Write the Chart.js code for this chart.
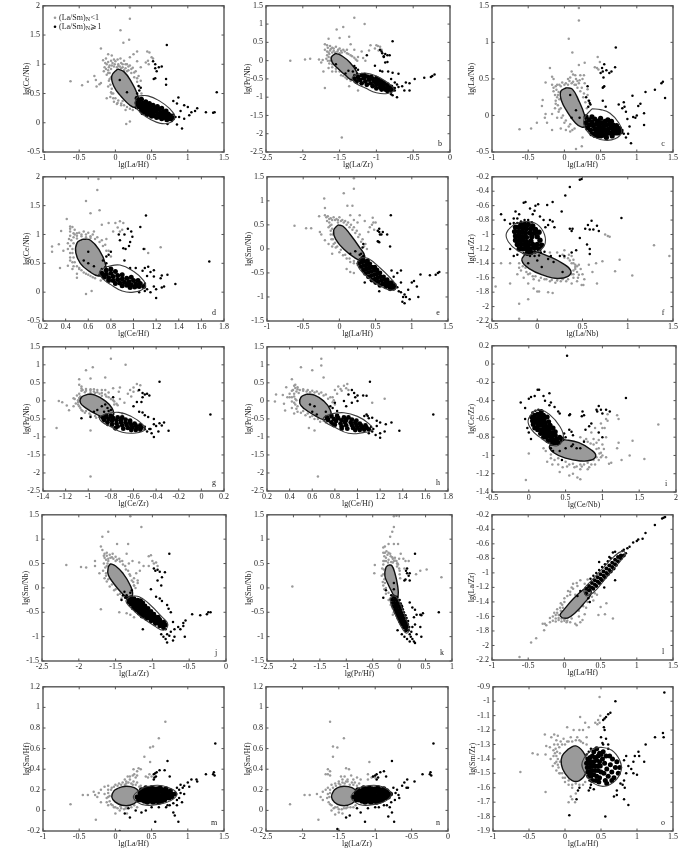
<!DOCTYPE html>
<html><head><meta charset="utf-8">
<style>html,body{margin:0;padding:0;background:#fff;width:700px;height:851px;overflow:hidden}canvas{position:absolute}</style>
<script src="https://cdn.jsdelivr.net/npm/chart.js@4/dist/chart.umd.min.js"></script>
</head><body>
<script>
// tick lists
const tLaHf=[-1,-.5,0,.5,1,1.5], tLaZr=[-2.5,-2,-1.5,-1,-.5,0], tCeHf=[.2,.4,.6,.8,1,1.2,1.4,1.6,1.8];
const tLaNb=[-.5,0,.5,1,1.5], tCeZr=[-1.4,-1.2,-1,-.8,-.6,-.4,-.2,0,.2], tCeNbX=[-.5,0,.5,1,1.5,2], tPrHf=[-2.5,-2,-1.5,-1,-.5,0,.5,1];
const yCeNb=[-.5,0,.5,1,1.5,2], yPrNb=[-2.5,-2,-1.5,-1,-.5,0,.5,1,1.5], yLaNb=[-.5,0,.5,1,1.5], ySmNb=[-1.5,-1,-.5,0,.5,1,1.5];
const yLaZr=[-2.2,-2,-1.8,-1.6,-1.4,-1.2,-1,-.8,-.6,-.4,-.2], yCeZr=[-1.4,-1.2,-1,-.8,-.6,-.4,-.2,0,.2], ySmHf=[-.2,0,.2,.4,.6,.8,1,1.2], ySmZr=[-1.9,-1.8,-1.7,-1.6,-1.5,-1.4,-1.3,-1.2,-1.1,-1,-.9];

// values as x,y,x,y,...
const aGray=[.2,1.97,.2,1.78,.07,1.58,.11,1.37,.19,1.42,-.2,1.27,-.13,1.1,-.17,1.07,-.1,1.17,-.05,1.15,-.62,.71,-.46,.64,-.38,.7,-.29,.8,-.27,.73,-.26,.62,-.22,.66,-.2,.68,.3,1.22,.25,1.17,.2,1.12,.44,1.22,.47,1.2,.5,1.12,.52,1.1,.45,1.06,.42,1.03,.46,1,.35,.95,.3,1.05,-.12,.42,-.05,.5,.02,.32,.08,.3,.15,-.02,.2,.02,-.15,.95,-.12,1,-.08,.98,-.04,1.02,0,1.05,.04,1,.08,1.02,.12,1.06,.16,1,.2,.98,.24,.94,.28,.88,.32,.8,.35,.72,-.1,.9,-.06,.92,-.02,.96,.02,.95,.06,.96,.1,.95,.14,.93,.18,.9,.22,.85,.26,.78,.3,.7,.33,.62,-.12,.82,-.08,.85,-.06,.78,-.09,.72,-.07,.65,-.05,.58,-.03,.5,0,.42,.04,.38,.08,.33,.12,.3,.16,.27,.2,.24,.24,.22,-.02,.36,.36,.5];
const aHalo=[-.14,1.02,-.1,1.04,-.06,1.06,-.02,1.08,.03,1.08,.07,1.1,.1,1,.14,1,.18,.96,.22,.92,.26,.86,.3,.76,-.16,.88,-.13,.92,-.09,.95,-.05,.98,-.01,1,.04,.97,.08,.93,.12,.9,.16,.88,-.1,.85,-.08,.75,-.1,.62,-.06,.52,-.07,.44,-.03,.42,.03,.34,.1,.37,.14,.22];
const aBlack=[.3,.42,.33,.38,.36,.4,.3,.34,.34,.32,.38,.34,.42,.36,.3,.27,.35,.26,.39,.28,.43,.3,.47,.33,.36,.21,.4,.23,.44,.25,.48,.27,.52,.3,.38,.17,.42,.19,.46,.2,.5,.22,.54,.25,.58,.28,.44,.14,.48,.15,.52,.17,.56,.2,.6,.23,.64,.25,.5,.11,.54,.12,.58,.14,.62,.17,.66,.19,.7,.2,.57,.09,.61,.1,.65,.12,.69,.14,.73,.15,.64,.07,.68,.09,.72,.1,.76,.12,.8,.14,.71,.05,.75,.07,.79,.08,.83,.1,.71,1.33,.6,.95,.55,1,.52,1.05,.55,.93,.64,.96,.57,.88,.53,.75,.55,.76,.7,.75,.7,.65,.32,.63,.35,.6,.33,.55,.3,.5,.06,.73,.16,.52,.8,.37,.87,.43,.85,.33,.95,.3,1,.27,1.05,.18,1.1,.2,1.13,.25,1.02,.13,1.25,.18,1.35,.17,1.37,.18,1.4,.52,.92,-.1,.85,-.03,.88,.1,.95,.07,.78,.03,.72,-.02,.9,.2];
const aGrayEll=[.03,.92,.12,.87,.22,.7,.3,.5,.33,.33,.28,.26,.2,.3,.08,.45,-.02,.62,-.05,.8,.03,.92];
const aBlackEll=[.33,.46,.45,.46,.6,.38,.75,.24,.82,.1,.75,0,.62,-.01,.48,.06,.36,.16,.28,.28,.28,.4,.33,.46];

const bGray=[-1.3,1.17,-1.16,1,-1.45,.92,-1.54,.85,-1.37,.65,-1.5,.62,-1.65,.6,-2.17,0,-1.97,.03,-1.9,.05,-1.78,.03,-1.73,.02,-1.47,-2.1,-1.7,-.75,-1.37,-.7,-1.25,-.82,-1.08,.42,-1,.42,-.98,.4,-.95,.38,-1.02,.33,-.97,.28,-.93,.3,-1.1,.28,-1.35,.45,-1.4,.3,-1.3,.3,-1.2,.25,-1.25,.1,-1.18,.07,-1.15,0,-1.6,-.3,-1.65,-.2,-1.75,-.05,-1.72,-.3,-1.7,.45,-1.67,.42,-1.63,.4,-1.6,.35,-1.55,.38,-1.5,.33,-1.45,.3,-1.7,.3,-1.67,.25,-1.63,.28,-1.58,.27,-1.53,.25,-1.47,.22,-1.4,.2,-1.35,.15,-1.3,.08,-1.26,0,-1.67,.15,-1.64,.18,-1.62,.08,-1.68,.05,-1.63,0,-1.6,-.1,-1.55,-.22,-1.5,-.3,-1.45,-.42,-1.4,-.5,-1.3,-.58];
const bHalo=[-1.66,.35,-1.62,.32,-1.58,.33,-1.52,.3,-1.48,.27,-1.43,.25,-1.38,.18,-1.33,.12,-1.65,.22,-1.6,.22,-1.56,.22,-1.5,.2,-1.28,.03,-1.65,.1,-1.66,0,-1.64,-.08,-1.6,-.18,-1.55,-.3,-1.48,-.4,-1.42,-.46,-1.35,-.55];
const bBlack=[-1.3,-.4,-1.26,-.36,-1.3,-.5,-1.25,-.45,-1.2,-.4,-1.16,-.4,-1.27,-.58,-1.22,-.53,-1.17,-.48,-1.12,-.44,-1.07,-.44,-1.2,-.62,-1.15,-.57,-1.1,-.52,-1.05,-.5,-1,-.48,-.97,-.52,-1.13,-.66,-1.08,-.62,-1.03,-.58,-.98,-.57,-.93,-.57,-.9,-.6,-1.05,-.7,-1,-.66,-.95,-.65,-.9,-.66,-.85,-.66,-1,-.76,-.95,-.73,-.9,-.73,-.85,-.73,-.8,-.72,-.93,-.79,-.88,-.79,-.83,-.79,-.78,-.78,-.75,-.75,-.85,-.83,-.8,-.85,-.75,-.82,-.78,.53,-.95,.3,-.92,.2,-.88,.18,-.85,.15,-.82,.15,-.9,.12,-.93,.25,-.9,.1,-.88,-.05,-.85,-.04,-1.02,-.14,-.95,-.28,-.92,-.3,-.84,-.3,-.78,-.33,-.7,-.36,-.8,-.5,-.75,-.6,-.72,-.65,-.7,-.72,-.65,-.7,-.6,-.6,-.55,-.62,-.62,-.82,-.55,-.82,-.72,-1,-.78,-.95,-.8,-.92,-.48,-.5,-.35,-.47,-.26,-.45,-.24,-.42,-.21,-.38,-1.13,.15,-1.3,-.15,-1.28,-.2,-1.25,-.25,-1.32,-.3,-1.55,-.1,-1.42,-.35,-1.38,-.28];
const bGrayEll=[-1.55,.2,-1.47,.13,-1.36,-.05,-1.27,-.3,-1.25,-.5,-1.33,-.53,-1.42,-.4,-1.53,-.2,-1.6,-.05,-1.61,.1,-1.55,.2];
const bBlackEll=[-1.28,-.38,-1.15,-.34,-1,-.42,-.85,-.6,-.76,-.8,-.85,-.9,-1,-.88,-1.15,-.75,-1.28,-.62,-1.33,-.48,-1.28,-.38];

const cGray=[.2,1.47,.2,1.3,.06,1.05,.11,.86,-.2,.65,.46,.8,.49,.73,.45,.65,.42,.66,.47,.63,.28,.72,.2,.69,.27,.55,.1,.6,.15,.55,.25,.5,-.26,.45,-.17,.53,-.15,.5,-.3,.21,-.31,.13,-.26,.02,-.27,-.03,-.24,-.1,-.62,-.19,-.46,-.18,-.38,-.1,-.17,-.2,-.05,-.18,.02,-.2,.08,-.22,.25,-.3,.24,-.42,.16,-.46,-.17,.42,-.12,.4,-.07,.42,-.03,.45,.02,.44,.07,.47,.12,.46,.16,.5,.2,.44,.24,.38,.27,.3,.32,.28,-.15,.33,-.11,.35,-.08,.32,-.1,.25,-.07,.22,-.05,.1,-.08,.05,-.02,0,.02,-.07,.08,-.12,.14,-.18,-.13,.1,-.17,.02,-.1,-.03,.12,.56,.16,.42,.05,.5,.28,.44,.22,.55,.32,.36];
const cHalo=[-.15,.38,-.1,.42,-.05,.4,0,.42,.05,.42,.1,.44,.14,.42,.18,.38,.22,.33,.26,.25,.29,.18,-.13,.28,-.09,.28,-.12,.2,-.09,.14,-.07,.08,-.12,.16,-.04,-.03,0,-.1,.06,-.15,.11,-.2,.31,.1,.33,.2,.08,.52,.18,.47,.21,.48];
const cBlack=[.3,-.02,.34,-.06,.38,-.02,.3,-.1,.34,-.13,.38,-.09,.42,-.05,.46,-.08,.5,-.04,.32,-.17,.36,-.2,.4,-.14,.44,-.12,.48,-.13,.52,-.1,.56,-.08,.6,-.06,.65,-.08,.38,-.25,.42,-.19,.46,-.18,.5,-.19,.54,-.15,.58,-.13,.62,-.12,.67,-.13,.72,-.14,.44,-.24,.48,-.24,.52,-.23,.56,-.2,.6,-.19,.64,-.17,.68,-.18,.72,-.19,.76,-.18,.5,-.28,.54,-.27,.58,-.25,.62,-.24,.66,-.23,.7,-.24,.74,-.24,.78,-.22,.46,-.28,.42,-.27,.58,-.3,.66,-.28,.8,-.2,.71,.93,.7,.66,.55,.7,.52,.65,.53,.6,.58,.62,.62,.58,.65,.6,.5,.58,.54,.52,.55,.4,.53,.38,.54,.39,.32,.4,.3,.25,.34,.2,.36,.15,.33,.12,.35,.17,.53,.2,.57,.12,.75,.15,.82,.18,.8,.1,.85,.05,.83,.12,.87,-.05,.9,-.15,.94,.27,.95,-.02,.98,-.03,1,0,1.02,.13,1.05,.16,1.1,.03,1.12,.32,1.25,.35,1.36,.46,1.34,.44,1.39,.24,1.1,-.13,.92,-.38,.85,-.3,.82,-.25,.88,-.25,.08,.28,.16,.07,.21,-.03,.1,-.03];
const cGrayEll=[.03,.38,.11,.36,.2,.2,.28,0,.3,-.13,.24,-.16,.15,-.1,.04,.05,-.04,.2,-.05,.33,.03,.38];
const cBlackEll=[.38,.09,.5,.08,.63,.03,.75,-.1,.79,-.23,.7,-.32,.56,-.34,.42,-.3,.3,-.2,.27,-.05,.38,.09];

const dGray=[.69,1.96,.68,1.77,.58,1.58,.62,1.37,.7,1.42,.41,1.27,.46,1.13,.36,1.06,.44,1.1,.78,1.2,.84,1.2,.88,1.23,.91,1.2,.86,1.12,.82,1.05,.88,1.05,.9,1.08,1.1,.75,.72,1.17,.65,1.05,.28,.79,.28,.7,.34,.83,.38,.72,.35,.42,.42,.46,.44,.6,.46,.4,.5,.32,.52,.4,.5,.25,.58,-.03,.63,.02,1.24,.78,1.13,.68,.44,1.14,.48,1.08,.44,.98,.48,1,.52,1.03,.56,1.05,.6,1.03,.64,1,.68,.95,.72,.9,.75,.82,.78,.72,.8,.62,.45,.9,.47,.85,.5,.93,.54,.97,.58,.95,.62,.94,.46,.75,.44,.68,.47,.6,.46,.52,.5,.45,.54,.38,.58,.32,.62,.28,.66,.24,.71,.2,.42,.85,.76,.92];
const dHalo=[.44,1.05,.47,1.02,.5,1.02,.54,1,.58,1,.62,.97,.66,.92,.7,.87,.73,.8,.76,.72,.43,.92,.47,.95,.5,.98,.44,.8,.46,.68,.42,.75,.44,.55,.48,.52,.47,.45,.52,.42,.56,.34,.6,.3,.64,.26];
const dBlack=[.72,.4,.76,.38,.72,.33,.76,.31,.8,.33,.84,.36,.74,.26,.78,.25,.82,.27,.86,.29,.9,.3,.78,.2,.82,.2,.86,.22,.9,.23,.94,.24,.98,.26,.84,.15,.88,.16,.92,.17,.96,.18,1,.2,1.04,.2,.9,.11,.94,.12,.98,.13,1.02,.14,1.06,.15,1.1,.15,.97,.08,1.01,.09,1.05,.1,1.09,.1,.75,.43,.8,.4,.7,.3,1.11,1.33,1.06,1.13,.95,1.1,.98,1.05,.92,1,.99,.96,.97,.87,.87,1,.88,.9,.96,.8,.93,.75,.91,.76,1.09,.75,.8,.7,.78,.65,.76,.62,.73,.55,.76,.5,.6,.7,.65,.45,.56,.55,.6,.5,.92,.55,.97,.42,1.02,.42,1.1,.42,1.13,.44,1.08,.37,1.15,.35,1.18,.38,1.12,.28,1.18,.27,1.25,.29,1.3,.3,1.24,.24,1.18,.1,1.2,.05,1.25,.08,1.27,.1,1.37,.14,1.67,.53,1.2,-.1,1.15,0,1.12,.05,1.05,0,1.1,.02];
const dGrayEll=[.55,.92,.62,.9,.7,.72,.75,.5,.75,.32,.69,.28,.61,.36,.53,.5,.49,.68,.5,.85,.55,.92];
const dBlackEll=[.76,.44,.88,.47,1,.36,1.09,.2,1.1,.08,1,0,.9,.02,.8,.13,.72,.25,.7,.36,.76,.44];

const eGray=[.2,1.47,.2,1.25,.06,1.16,.11,.9,.18,.9,-.21,1.05,-.2,.85,-.28,.68,-.62,.48,-.46,.43,-.39,.43,-.27,.35,-.25,.3,.47,.55,.45,.5,.5,.55,.42,.45,.48,.4,.4,.35,.46,.65,.28,.7,.35,.58,.15,.7,.2,.6,.25,.55,.1,-.42,.2,-.5,.15,-.48,-.1,-.1,-.15,.1,-.2,.18,-.1,.05,-.2,.7,-.16,.68,-.12,.64,-.08,.66,-.04,.62,0,.66,.04,.6,.08,.58,.12,.55,.16,.5,.2,.45,.24,.38,.28,.3,.32,.2,.36,.1,.38,0,-.17,.58,-.14,.55,-.11,.5,-.15,.45,-.12,.38,-.09,.3,-.11,.2,-.08,.1,-.05,.03,0,-.07,.05,-.13,.1,-.2,.15,-.27,.2,-.3,.25,-.33,-.02,.55];
const eHalo=[-.18,.66,-.14,.62,-.1,.6,-.06,.6,-.02,.6,.02,.58,.06,.55,.1,.5,.14,.45,.18,.4,.22,.33,.26,.25,.3,.15,.34,.05,-.13,.48,-.1,.42,-.12,.3,-.09,.2,-.06,.13,-.03,.05,.02,-.02,.08,-.12,.14,-.2,.2,-.25];
const eBlack=[.28,-.22,.32,-.2,.27,-.3,.31,-.28,.35,-.26,.39,-.25,.3,-.37,.34,-.35,.38,-.33,.42,-.31,.33,-.44,.37,-.42,.41,-.4,.45,-.38,.49,-.38,.36,-.51,.4,-.49,.44,-.47,.48,-.45,.52,-.44,.4,-.58,.44,-.56,.48,-.54,.52,-.52,.56,-.5,.45,-.65,.49,-.63,.53,-.6,.57,-.58,.61,-.58,.5,-.7,.54,-.68,.58,-.66,.62,-.64,.66,-.64,.56,-.76,.6,-.73,.64,-.71,.68,-.7,.72,-.7,.64,-.79,.68,-.77,.72,-.76,.76,-.76,.7,-.83,.75,-.82,.28,-.12,.33,-.15,.71,.7,.55,.42,.53,.38,.55,.35,.56,.3,.6,.35,.66,.3,.58,.3,.53,.16,.55,.14,.54,.15,.7,.05,.33,.1,.32,.03,.3,-.1,.15,-.1,.22,-.05,.85,-.45,.8,-.5,.72,-.45,.75,-.58,.85,-.7,.8,-.8,.9,-.95,.85,-.9,.88,-1,.87,-1.1,.9,-1.13,.92,-1,.95,-.85,1.03,-.67,1,-.7,1.09,-1,1.07,-.78,.97,-1.05,1.12,-.53,1.25,-.55,1.33,-.54,1.36,-.5,1.38,-.48,.55,-.88,.35,-.7,.82,-.88];
const eGrayEll=[-.02,.5,.05,.47,.15,.3,.27,.05,.35,-.15,.31,-.25,.2,-.17,.07,-.02,-.05,.2,-.08,.38,-.02,.5];
const eBlackEll=[.31,-.18,.4,-.2,.55,-.38,.7,-.6,.79,-.78,.73,-.86,.6,-.8,.42,-.62,.28,-.42,.25,-.27,.31,-.18];

const fGray=[1.29,-1.15,1.46,-1.3,1.05,-1.57,.86,-1.51,.91,-1.35,.78,-1.02,.75,-1,.8,-1.03,.72,-1.37,.65,-1.4,.57,-1.42,.61,-1.52,.66,-1.68,.51,-1.7,.4,-1.4,.35,-1.28,.3,-1.22,.28,-1.28,.38,-1.3,-.46,-1.72,-.4,-1.4,-.3,-1.4,-.2,-1.4,-.3,-1.68,-.2,-1.96,-.1,-1.9,-.2,-2.17,0,-2.2,-.04,-1.75,0,-1.79,.02,-1.79,.12,-1.8,.17,-1.81,-.22,-1.55,-.18,-1.5,-.15,-1.6,-.1,-1.55,-.05,-1.58,-.1,-1.68,-.04,-1.62,.02,-1.64,.08,-1.62,.14,-1.65,.2,-1.67,.26,-1.65,.32,-1.65,.38,-1.68,.44,-1.65,.49,-1.7,.4,-1.6,.45,-1.6,.5,-1.55,.44,-1.52,.48,-1.48,.42,-1.45,.52,-1.62,.38,-1.55,.46,-1.42,.4,-1.35,.34,-1.33,.22,-1.25,.14,-1.25];
const fHalo=[-.12,-1.52,-.08,-1.54,-.02,-1.58,.04,-1.6,.1,-1.62,.16,-1.63,.22,-1.64,.28,-1.62,.34,-1.62,.4,-1.55,.42,-1.48,.42,-1.42,.38,-1.4,.36,-1.36,.3,-1.32,.4,-1.5,.46,-1.56,.44,-1.44,-.16,-1.44,-.13,-1.46,-.2,-1.46];
const fBlack=[-.26,-.78,-.22,-.78,-.18,-.82,-.14,-.8,-.1,-.8,-.06,-.83,-.26,-.84,-.22,-.84,-.18,-.86,-.14,-.86,-.1,-.86,-.05,-.88,-.24,-.9,-.2,-.9,-.16,-.92,-.12,-.92,-.07,-.92,-.02,-.93,-.25,-.96,-.21,-.96,-.17,-.97,-.13,-.98,-.08,-.98,-.03,-.98,.02,-.97,-.24,-1.02,-.2,-1.02,-.16,-1.03,-.12,-1.04,-.06,-1.03,0,-1.03,-.24,-1.08,-.2,-1.08,-.16,-1.08,-.12,-1.1,-.07,-1.09,.03,-1.08,-.22,-1.14,-.18,-1.14,-.14,-1.14,-.1,-1.15,-.05,-1.14,0,-1.14,.05,-1.15,-.2,-1.2,-.16,-1.2,-.12,-1.2,-.08,-1.2,-.03,-1.19,.02,-1.2,-.15,-1.26,-.11,-1.26,-.07,-1.25,-.02,-1.25,.04,-1.25,.08,-1.24,-.08,-1.3,-.03,-1.3,.02,-1.29,.47,-.24,.49,-.23,.36,-.34,.31,-.46,.27,-.68,.93,-.77,.01,-.58,-.02,-.6,-.13,-.55,-.15,-.56,.17,-.55,.11,-.59,-.4,-.72,-.36,-.8,-.3,-.85,-.24,-.68,-.2,-.72,-.08,-.64,-.03,-.67,-.05,-.72,.03,-.75,.07,-.8,.14,-.8,.17,-.82,.12,-.87,.19,-.9,.09,-.9,.36,-.92,.38,-.95,.39,-.92,.47,-1.05,.53,-.92,.56,-.87,.58,-.93,.6,-.81,.62,-.93,.66,-.88,.68,-.95,.55,-1.14,.58,-1.2,.58,-1.27,-.3,-1.2,-.26,-1.3,-.22,-1.28,-.1,-1.4,0,-1.36,.05,-1.45,.12,-1.34,.18,-1.38,.28,-1.52,.3,-1.3,.25,-1.3,.38,-1.25,.43,-1.22,.15,-1.3];
const fGrayEll=[-.12,-1.25,-.02,-1.24,.12,-1.3,.28,-1.4,.37,-1.5,.34,-1.58,.22,-1.61,.08,-1.57,-.08,-1.48,-.17,-1.36,-.12,-1.25];
const fBlackEll=[-.25,-.85,-.12,-.82,0,-.86,.08,-1,.08,-1.15,0,-1.24,-.1,-1.28,-.22,-1.22,-.32,-1.1,-.34,-.98,-.25,-.85];

const gGray=[-.8,1.17,-.67,1,-.96,.93,-1.02,.85,-.85,.65,-.98,.62,-1.08,.6,-1.28,-.75,-.98,-2.1,-.98,-.82,-1.26,0,-1.23,-.04,-1.19,-.13,-1.17,-.26,-1.13,-.15,-1.11,-.07,-1.13,.07,-.72,.37,-.63,.3,-.6,.37,-.57,.47,-.54,.43,-.6,.25,-.56,.28,-.73,.25,-.78,.35,-.88,.3,-.65,.2,-.62,.12,-.72,.05,-.68,-.05,-.7,-.35,-.77,-.1,-.85,.3,-.82,.23,-1.08,.45,-1.06,.4,-1.05,.3,-1.02,.33,-.98,.28,-.95,.32,-.92,.3,-1.08,.2,-1.1,.15,-1.07,.12,-1.03,.24,-.98,.22,-.94,.22,-.9,.2,-.88,.14,-.84,.12,-.8,.05,-.77,-.02,-.74,-.12,-1.12,.05,-1.09,.02,-1.09,-.1,-1.07,-.2,-1.05,-.28,-1.03,-.33,-.98,-.4,-.93,-.47,-.88,-.52,-.82,-.57];
const gHalo=[-1.06,.34,-1.02,.28,-.98,.32,-.95,.26,-.92,.24,-.88,.22,-.85,.18,-.82,.1,-.78,.02,-.75,-.08,-1.06,.28,-1.08,.08,-1.09,-.03,-1.08,-.15,-1.06,-.25,-1.02,-.28,-.99,-.35,-.94,-.42,-.89,-.48,-.83,-.52];
const gBlack=[-.87,-.46,-.84,-.42,-.8,-.42,-.86,-.53,-.82,-.5,-.78,-.48,-.74,-.46,-.7,-.46,-.83,-.6,-.79,-.56,-.75,-.54,-.71,-.53,-.67,-.52,-.63,-.55,-.79,-.66,-.75,-.63,-.71,-.6,-.67,-.6,-.63,-.6,-.59,-.63,-.74,-.71,-.7,-.68,-.66,-.67,-.62,-.67,-.58,-.68,-.54,-.68,-.69,-.77,-.65,-.75,-.61,-.74,-.57,-.74,-.53,-.74,-.5,-.72,-.62,-.81,-.58,-.81,-.54,-.8,-.5,-.79,-.46,-.78,-.83,-.67,-.76,-.76,-.37,.53,.08,-.38,-.55,.3,-.52,.22,-.5,.18,-.48,.2,-.46,.15,-.52,.1,-.57,-.03,-.53,-.03,-.6,-.15,-.55,-.3,-.52,-.32,-.5,-.4,-.47,-.45,-.42,-.5,-.42,-.65,-.37,-.62,-.4,-.7,-.35,-.68,-.33,-.6,-.29,-.83,-.38,-.85,-.42,-1,-.44,-.9,-.48,-.85,-.45,-.78,-.78,.1,-.85,-.1,-.88,-.15,-.83,-.2,-.8,-.25,-.82,-.28,-.86,-.3,-.92,-.25,-.95,-.3,-.98,-.45,-1.06,-.48,-.9,-.45];
const gGrayEll=[-1,.19,-.94,.16,-.86,.02,-.79,-.2,-.78,-.42,-.84,-.48,-.93,-.37,-1.02,-.2,-1.07,-.05,-1.06,.1,-1,.19];
const gBlackEll=[-.85,-.36,-.73,-.32,-.62,-.43,-.52,-.65,-.5,-.8,-.58,-.89,-.7,-.87,-.8,-.72,-.88,-.58,-.9,-.46,-.85,-.36];

const hGray=[.68,1.17,.68,.98,.5,.93,.6,.85,.7,.65,.42,.6,.28,.18,.27,-.02,.34,.16,.37,.38,.35,-.08,.36,-.27,.65,-2.1,.57,-.75,.62,-.82,1.24,.06,.83,.4,.88,.42,.91,.47,.85,.33,.82,.2,.86,.28,.9,.35,.8,.3,.92,.3,.78,.1,1.13,-.05,.45,.45,.44,.42,.47,.38,.43,.3,.47,.32,.52,.28,.56,.3,.6,.28,.64,.26,.68,.23,.72,.18,.76,.1,.79,.02,.8,-.1,.4,.2,.44,.2,.48,.22,.4,.1,.44,.12,.46,.02,.42,-.02,.45,-.1,.42,-.2,.46,-.22,.44,-.35,.5,-.33,.54,-.4,.58,-.45,.62,-.5,.67,-.58,.72,-.6,.38,.1];
const hHalo=[.45,.36,.49,.3,.52,.32,.55,.26,.58,.24,.62,.23,.66,.2,.7,.15,.74,.06,.78,-.04,.42,.28,.46,.26,.42,.1,.45,.05,.44,-.05,.47,-.15,.47,-.3,.52,-.28,.56,-.35,.6,-.42,.65,-.5,.7,-.55];
const hBlack=[.73,-.46,.77,-.42,.82,-.42,.74,-.53,.79,-.5,.83,-.48,.88,-.46,.92,-.46,.77,-.6,.81,-.56,.86,-.54,.9,-.53,.95,-.52,.99,-.55,.8,-.66,.85,-.63,.89,-.6,.94,-.6,.98,-.6,1.02,-.63,.86,-.71,.9,-.68,.95,-.67,.99,-.67,1.03,-.68,1.07,-.68,.91,-.77,.96,-.75,1,-.74,1.04,-.74,1.08,-.74,1.12,-.72,.98,-.81,1.02,-.81,1.06,-.8,1.1,-.79,1.14,-.78,.79,-.67,.86,-.77,1.11,.53,1.67,-.38,.95,.3,.97,.22,.92,.18,1,.15,.98,.1,1.05,.15,1.08,.14,.88,0,.95,-.05,1,0,.9,-.15,1.09,-.42,1.06,-.42,1.1,-.48,1.13,-.47,1.08,-.38,1.17,-.55,1.2,-.6,1.25,-.65,1.3,-.6,1.17,-.7,1.13,-.85,1.2,-.9,1.2,-1.02,1.16,-.95,1.24,-.85,1.37,-.83,1.1,-.9,.8,-.05,.76,-.15,.78,-.2,.72,-.3,.82,-.28,.62,-.15,.58,-.1,.6,-.3,.64,-.38];
const hGrayEll=[.55,.19,.62,.16,.7,0,.76,-.25,.76,-.47,.7,-.52,.62,-.4,.53,-.22,.49,-.07,.5,.1,.55,.19];
const hBlackEll=[.76,-.36,.88,-.33,1,-.43,1.1,-.63,1.13,-.8,1.05,-.88,.92,-.9,.8,-.73,.72,-.6,.7,-.47,.76,-.36];

const iGray=[1.76,-.66,1.41,-.84,1.37,-1,1.57,-1.04,1.26,-1.05,1.12,-1.08,1.09,-1.09,1.22,-.86,1.2,-.92,1.07,-.55,1.05,-.6,1.22,-.6,1.2,-.56,1.07,-.62,1.03,-.7,1.05,-.8,1,-.7,.98,-.65,.9,-.7,.95,-.83,.88,-.82,.85,-.75,0,-.98,-.04,-1.27,.25,-1.07,.23,-.95,.2,-.92,.32,-1.1,.4,-1.1,.42,-1.18,.6,-1.2,.55,-1.22,.66,-1.24,.7,-1.26,.55,-1.1,.65,-1.12,.75,-1.1,.82,-1.13,.9,-1.1,.8,-1.15,.95,-1.05,1,-1,1.02,-.93,1.05,-1.02,.95,-.92,1,-.88,.92,-.86,.7,-.8,.78,-.82,.7,-1.15,.98,-.97,.3,-1.03,.46,-1.13];
const iHalo=[.4,-1.03,.5,-1.07,.6,-1.09,.7,-1.1,.8,-1.08,.88,-1.05,.92,-1.02,.96,-.98,.92,-.93,.88,-.88,.84,-.87,.8,-.85,.75,-.84,.72,-1.12,.62,-1.13,.52,-1.12,.85,-1.1,.3,-.99,.35,-1.05,.98,-1.02];
const iBlack=[.05,-.53,.09,-.51,.13,-.5,.17,-.52,.04,-.58,.08,-.56,.12,-.55,.16,-.56,.2,-.56,.05,-.62,.09,-.6,.13,-.59,.17,-.6,.21,-.6,.25,-.58,.06,-.66,.1,-.64,.14,-.63,.18,-.64,.22,-.64,.27,-.63,.08,-.7,.12,-.68,.16,-.67,.2,-.68,.24,-.68,.29,-.67,.12,-.72,.16,-.72,.2,-.72,.24,-.72,.28,-.71,.33,-.7,.16,-.76,.2,-.76,.24,-.76,.28,-.75,.32,-.75,.36,-.74,.2,-.8,.24,-.8,.28,-.79,.32,-.79,.36,-.78,.26,-.84,.3,-.83,.34,-.83,.38,-.82,.42,-.8,.32,-.87,.36,-.86,.4,-.86,.44,-.84,.52,.09,1.32,-.37,.14,-.28,.12,-.28,-.11,-.42,-.05,-.48,0,-.38,.03,-.36,.08,-.35,.2,-.35,.22,-.4,.28,-.32,.3,-.42,.28,-.45,.35,-.47,.4,-.52,.42,-.54,.55,-.56,.56,-.55,.73,-.52,.72,-.57,.75,-.56,.92,-.5,.95,-.46,.93,-.52,.98,-.5,1,-.54,1.05,-.5,1.1,-.52,.85,-.65,.82,-.68,.77,-.72,.95,-.75,1,-.8,.58,-.74,.6,-.78,.55,-.72,.5,-.8,.48,-.76,.45,-.82,.6,-.88,.65,-.92,.58,-.9,.5,-.92,.7,-.92,.75,-.85,.42,-.95,.3,-.92,.45,-1.05,.33,-.95,-.02,-.7,0,-.75,.03,-.82,-.05,-.6];
const iGrayEll=[.38,-.83,.5,-.83,.68,-.86,.85,-.94,.91,-1,.85,-1.05,.7,-1.06,.5,-1.03,.34,-.97,.28,-.9,.38,-.83];
const iBlackEll=[.06,-.52,.15,-.5,.28,-.55,.42,-.68,.47,-.8,.4,-.89,.3,-.88,.15,-.8,.04,-.72,-.01,-.62,.06,-.52];

const jGray=[-1.15,1.25,-1.3,1.47,-1.6,1.15,-1.68,1.05,-1.48,.9,-1.33,.9,-2.17,.47,-1.97,.43,-1.9,.42,-1.78,.55,-1.78,.45,-1.72,.3,-1.7,-.44,-1.27,.55,-1.18,.52,-1.35,.7,-1.32,.5,-1.05,.65,-1.02,.67,-1,.55,-.95,.52,-.98,.5,-.93,.45,-1.05,.45,-1.12,.45,-1.17,.35,-1.22,.3,-1.25,.2,-1.2,.15,-1.45,-.5,-1.35,-.52,-1.3,-.55,-1.25,-.6,-1.2,.1,-1.25,.05,-1.7,.85,-1.68,.78,-1.65,.7,-1.62,.72,-1.58,.68,-1.54,.7,-1.5,.64,-1.45,.6,-1.41,.55,-1.37,.45,-1.33,.35,-1.3,.25,-1.26,.12,-1.23,0,-1.65,.62,-1.63,.58,-1.6,.55,-1.66,.5,-1.64,.42,-1.67,.35,-1.63,.3,-1.65,.2,-1.62,.13,-1.58,.03,-1.52,-.05,-1.47,-.14,-1.42,-.22,-1.55,.63,-1.5,.55];
const jHalo=[-1.66,.66,-1.62,.66,-1.57,.62,-1.53,.6,-1.48,.58,-1.44,.54,-1.4,.48,-1.36,.38,-1.31,.28,-1.28,.15,-1.25,.05,-1.6,.6,-1.61,.5,-1.62,.45,-1.63,.25,-1.6,.18,-1.55,.07,-1.5,-.03,-1.44,-.12,-1.4,-.17];
const jBlack=[-1.33,-.22,-1.29,-.2,-1.25,-.22,-1.32,-.29,-1.28,-.27,-1.24,-.27,-1.2,-.25,-1.16,-.26,-1.29,-.34,-1.25,-.33,-1.21,-.32,-1.17,-.31,-1.13,-.31,-1.26,-.41,-1.22,-.39,-1.18,-.38,-1.14,-.37,-1.1,-.37,-1.22,-.46,-1.18,-.45,-1.14,-.44,-1.1,-.43,-1.06,-.42,-1.18,-.52,-1.14,-.51,-1.1,-.5,-1.06,-.49,-1.02,-.48,-1.14,-.58,-1.1,-.57,-1.06,-.56,-1.02,-.55,-.98,-.54,-1.08,-.63,-1.04,-.62,-1,-.61,-.96,-.6,-.92,-.6,-1.02,-.68,-.98,-.67,-.94,-.66,-.9,-.65,-.96,-.73,-.92,-.72,-.88,-.71,-.84,-.7,-.9,-.78,-.86,-.77,-.82,-.76,-.85,-.82,-1.35,-.15,-1.3,-.1,-1.28,-.05,-.77,.7,-.98,.4,-.96,.35,-.93,.37,-.9,.33,-.83,.32,-.87,.22,-.93,.15,-.88,.05,-1.02,-.03,-.95,-.18,-.9,-.22,-.87,-.27,-.8,-.35,-.78,-.43,-.75,-.5,-.72,-.7,-.7,-.85,-.75,-.9,-.82,-.85,-.8,-.95,-.88,-.95,-.85,-1,-.82,-1.05,-.8,-1.12,-.77,-.98,-.72,-1.08,-.7,-1,-.62,-.85,-.58,-.72,-.55,-.67,-.56,-1,-.58,-.78,-.46,-.54,-.35,-.56,-.26,-.54,-.24,-.5,-.21,-.5,-1.13,-.85,-.65,-.8,-1.42,-.25,-1.37,-.2,-1.4,-.15,-1.38,-.08];
const jGrayEll=[-1.57,.5,-1.5,.45,-1.4,.3,-1.3,.05,-1.27,-.15,-1.33,-.2,-1.42,-.1,-1.53,.1,-1.6,.27,-1.6,.42,-1.57,.5];
const jBlackEll=[-1.3,-.17,-1.18,-.18,-1.05,-.32,-.88,-.58,-.79,-.75,-.85,-.87,-.97,-.78,-1.15,-.6,-1.3,-.4,-1.36,-.27,-1.3,-.17];

const kGray=[-.1,1.47,-.05,1.48,-.1,1.25,-.13,1.15,-.17,1.05,-.2,.9,-.1,.9,-.02,.9,-.27,.85,-.3,.83,-.46,.47,-.47,.3,-2.02,.03,.8,.22,.52,.38,.4,.35,.32,.28,.03,.7,0,.6,.12,.55,.18,.55,.08,.6,.1,.4,-.03,.5,-.3,.72,-.28,.65,-.25,.62,-.22,.68,-.17,.7,-.13,.63,-.08,.62,-.05,.55,-.02,.48,.01,.35,.02,.2,-.3,.55,-.32,.4,-.33,.25,-.31,.12,-.3,.05,-.28,-.03,-.25,-.12,-.2,-.25,-.16,-.35,-.12,-.42,-.2,.58,-.15,.53,-.1,.55,-.04,.44,-.1,-.5,-.12,-.55];
const kHalo=[-.27,.72,-.24,.75,-.2,.72,-.16,.65,-.12,.6,-.08,.56,-.04,.5,-.28,.55,-.25,.55,-.21,.52,-.3,.48,-.29,.38,-.3,.28,-.28,.18,-.27,.1,-.25,0,-.2,-.1,-.17,-.22,0,.4,.01,.28,-.12,.52];
const kBlack=[-.15,-.15,-.1,-.18,-.05,-.2,-.14,-.24,-.09,-.25,-.04,-.26,.01,-.25,-.12,-.31,-.07,-.32,-.02,-.32,.03,-.32,-.11,-.38,-.06,-.39,-.01,-.38,.04,-.38,-.08,-.45,-.03,-.45,.02,-.45,.07,-.44,-.06,-.51,-.01,-.51,.04,-.51,.09,-.5,-.03,-.57,.02,-.57,.07,-.57,.12,-.56,-.01,-.63,.04,-.63,.09,-.63,.14,-.62,.02,-.69,.07,-.69,.12,-.69,.17,-.68,.05,-.75,.1,-.75,.15,-.75,.09,-.81,.14,-.81,.19,-.8,.13,-.87,.18,-.87,.3,.7,.15,.4,.13,.35,.2,.3,.18,.25,.1,.15,.12,.17,.2,.15,.15,.3,-.25,-.05,-.3,-.2,-.1,.1,-.1,-.03,.2,-.3,.25,-.4,.3,-.45,.4,-.55,.45,-.52,.42,-.56,.75,-.5,.33,-.55,.28,-.6,.3,-.75,.25,-.8,.2,-.95,.15,-1.05,.22,-1,.25,-1.05,.28,-1.1,.3,-1.13,.2,-1.1,.33,-.95,.4,-.8,.42,-1,.1,-1,.23,-.9,-.03,-.87,.05,-.95];
const kGrayEll=[-.2,.47,-.14,.46,-.08,.3,-.03,.05,-.02,-.17,-.07,-.22,-.13,-.1,-.22,.1,-.27,.25,-.25,.42,-.2,.47];
const kBlackEll=[-.13,-.16,-.06,-.18,.03,-.35,.12,-.6,.19,-.85,.14,-.93,.07,-.85,-.03,-.65,-.13,-.4,-.17,-.25,-.13,-.16];

const lGray=[-.62,-2.16,-.46,-1.96,-.39,-1.9,-.28,-1.79,-.27,-1.7,-.3,-1.7,-.25,-1.72,-.2,-1.68,-.16,-1.66,-.12,-1.63,-.08,-1.58,-.05,-1.52,-.02,-1.48,-.12,-1.67,-.08,-1.65,-.04,-1.67,0,-1.64,.04,-1.66,.08,-1.68,.15,-1.7,.17,-1.72,.22,-1.68,.25,-1.65,.5,-1.47,.58,-1.42,.47,-1.58,.56,-1.57,.67,-1.63,.28,-1.57,.25,-1.45,.15,-1.3,.1,-1.2,.12,-1.15,.18,-1.18,.22,-1.1,.28,-1.15,.32,-1.09,.05,-1.25,.08,-1.3,0,-1.4,-.05,-1.42,.45,-1.3,.4,-1.38,.35,-1.4,.2,-1.6,.1,-1.63,.03,-1.68,.3,-1.48,-.14,-1.55,-.1,-1.5];
const lHalo=[-.2,-1.62,-.16,-1.6,-.12,-1.58,-.08,-1.62,-.04,-1.63,0,-1.66,.04,-1.62,-.1,-1.55,-.06,-1.48,-.03,-1.44,0,-1.35,.04,-1.32,.08,-1.26,.12,-1.22,.17,-1.14,.2,-1.52,.26,-1.46,.32,-1.4,.38,-1.33,.42,-1.28];
const lBlack=[.3,-1.28,.34,-1.24,.3,-1.22,.34,-1.18,.38,-1.2,.38,-1.14,.42,-1.16,.42,-1.1,.46,-1.12,.46,-1.06,.5,-1.08,.5,-1.02,.54,-1.04,.54,-.98,.58,-1,.58,-.94,.62,-.96,.62,-.9,.66,-.92,.66,-.86,.7,-.88,.7,-.82,.74,-.84,.74,-.78,.78,-.8,.78,-.76,.82,-.76,.4,-1.22,.44,-1.18,.48,-1.14,.52,-1.1,.56,-1.06,.6,-1.02,.64,-.98,.68,-.94,.72,-.9,.36,-1.08,.4,-1.04,.44,-1,.48,-.96,.52,-.92,.56,-.88,.6,-.84,.64,-.8,.48,-.85,.62,-.78,.67,-.72,.7,-.71,.8,-.7,.85,-.73,.82,-.68,.87,-.66,.9,-.64,.95,-.58,1,-.56,1.02,-.54,1.08,-.53,1.12,-.45,1.25,-.34,1.35,-.25,1.37,-.24,1.39,-.23,.7,-1.1,.55,-1.2,.33,-1.35,.35,-1.4,.22,-1.25,.18,-1.32];
const lGrayEll=[-.03,-1.62,.05,-1.62,.15,-1.55,.27,-1.42,.37,-1.28,.33,-1.2,.25,-1.24,.12,-1.36,0,-1.5,-.06,-1.58,-.03,-1.62];
const lBlackEll=[.3,-1.32,.4,-1.27,.55,-1.1,.7,-.92,.84,-.74,.8,-.7,.68,-.78,.5,-.97,.36,-1.12,.27,-1.23,.3,-1.32];

const mGray=[.69,.86,.6,.7,.52,.62,.48,.61,.4,.52,.48,.47,-.62,.06,-.45,.15,-.38,.15,-.27,-.09,-.3,.18,-.28,.15,-.25,.13,-.23,.17,-.2,.2,-.2,.08,.35,.4,.32,.41,.3,.38,.25,.4,.3,.34,.24,.34,.28,.32,.2,.3,.17,.33,.25,.28,.15,.28,.45,.32,.47,.35,.42,.33,.5,.33,-.15,.23,-.1,.24,-.05,.22,0,.25,.05,.26,.1,.27,.15,.26,.22,.26,.28,.25,.35,.24,-.15,.16,-.12,.12,-.1,.17,-.08,.09,-.04,.05,0,.03,.06,0,.12,.01,.16,-.03,.14,.02,.22,.03,.3,.03,.38,.2,0,-.03,-.1,.05,.07,.04];
const mHalo=[-.1,.2,-.06,.2,-.02,.23,.03,.24,.08,.25,.13,.25,.18,.27,.24,.25,.3,.27,.13,.3,.2,.33,.26,.35,-.12,.08,-.08,.14,-.1,.13,-.06,.06,-.02,.03,.03,.02,.08,.02,.16,.02,.26,.05,.33,.23];
const mBlack=[.32,.1,.36,.1,.4,.09,.44,.08,.48,.09,.52,.08,.56,.09,.6,.08,.64,.09,.68,.1,.3,.13,.34,.14,.38,.13,.42,.12,.46,.12,.5,.11,.54,.12,.58,.12,.62,.11,.66,.12,.7,.12,.74,.12,.78,.13,.34,.17,.38,.16,.42,.15,.46,.16,.5,.15,.54,.15,.58,.15,.62,.14,.66,.15,.7,.15,.74,.15,.78,.16,.82,.16,.36,.2,.4,.19,.44,.18,.48,.19,.52,.18,.56,.18,.6,.18,.64,.18,.68,.18,.72,.18,.76,.19,.42,.22,.46,.21,.5,.22,.54,.21,.58,.21,.62,.22,.66,.2,.7,.21,1.38,.65,.72,.48,.68,.39,.61,.39,.57,.37,.55,.36,.53,.35,.56,.33,.54,.32,.53,.3,.75,.33,1.36,.37,1.35,.35,1.37,.34,1.25,.35,1.12,.3,1.05,.3,1.13,.28,1,.27,1.02,.23,.95,.24,.9,.25,.88,.2,.85,.22,.9,.17,.95,.16,.88,.12,.85,.1,.92,.08,.8,.07,.75,.05,.7,.03,.72,.05,.6,.03,.5,.03,.42,0,.36,-.02,.55,-.11,.87,-.11,.82,-.05,.8,-.02,.85,.05,.2,-.07,.13,-.03,.18,.02,.06,-.2,.93,.22,.28,0];
const mGrayEll=[.05,.22,.15,.235,.26,.22,.33,.17,.3,.09,.2,.05,.09,.05,0,.08,-.05,.13,-.02,.19,.05,.22];
const mBlackEll=[.38,.22,.5,.24,.65,.24,.8,.2,.85,.15,.75,.09,.6,.06,.42,.05,.3,.08,.25,.14,.38,.22];

const nGray=[-1.62,.86,-1.43,.7,-1.58,.62,-1.52,.61,-1.58,.52,-1.08,.47,-2.17,.06,-1.97,.15,-1.9,.15,-1.78,-.09,-1.8,.16,-1.75,.13,-1.72,.18,-1.68,.2,-1.72,.1,-1.65,.4,-1.62,.38,-1.65,.35,-1.68,.35,-1.62,.34,-1.4,.41,-1.36,.4,-1.47,.33,-1.45,.3,-1.42,.33,-1.5,.28,-1.4,.28,-1.3,.3,-1.25,.32,-1.2,.3,-1.1,.35,-1.05,.32,-1.02,.33,-1,.32,-1.1,.3,-1.65,.22,-1.6,.25,-1.55,.26,-1.5,.26,-1.45,.27,-1.35,.25,-1.3,.25,-1.25,.24,-1.62,.17,-1.66,.12,-1.64,.08,-1.6,.05,-1.55,.03,-1.5,.01,-1.45,-.03,-1.43,.02,-1.38,.03,-1.3,.03,-1.5,-.02,-1.55,-.04,-1.6,0];
const nHalo=[-1.62,.2,-1.58,.22,-1.54,.24,-1.48,.25,-1.42,.26,-1.38,.28,-1.32,.27,-1.28,.27,-1.22,.26,-1.38,.3,-1.33,.34,-1.65,.16,-1.63,.13,-1.62,.06,-1.57,.02,-1.52,.03,-1.46,.01,-1.4,.02,-1.34,.03,-1.27,.05];
const nBlack=[-1.26,.1,-1.22,.1,-1.18,.09,-1.14,.08,-1.1,.09,-1.06,.08,-1.02,.09,-.98,.08,-.94,.09,-.9,.1,-1.3,.13,-1.26,.14,-1.22,.13,-1.18,.12,-1.14,.12,-1.1,.11,-1.06,.12,-1.02,.12,-.98,.11,-.94,.12,-.9,.12,-.86,.12,-.82,.13,-1.26,.17,-1.22,.16,-1.18,.15,-1.14,.16,-1.1,.15,-1.06,.15,-1.02,.15,-.98,.14,-.94,.15,-.9,.15,-.86,.15,-.82,.16,-.79,.16,-1.24,.2,-1.2,.19,-1.16,.18,-1.12,.19,-1.08,.18,-1.04,.18,-1,.18,-.96,.18,-.92,.18,-.88,.18,-.84,.19,-1.16,.22,-1.12,.21,-1.08,.22,-1.04,.21,-1,.21,-.96,.22,-.92,.2,-.88,.21,-.2,.65,-.77,.48,-.88,.38,-.93,.37,-.98,.35,-1,.34,-1.03,.33,-.98,.3,-.96,.32,-.85,.33,-.24,.37,-.25,.35,-.23,.34,-.35,.35,-.46,.28,-.56,.3,-.57,.22,-.6,.27,-.55,.22,-.63,.24,-.7,.2,-.75,.22,-.68,.15,-.72,.17,-.67,.12,-.73,.1,-.78,.08,-.84,.05,-.8,.03,-.88,.05,-.95,.03,-1,.03,-1.1,.02,-1.2,-.02,-1.25,.02,-1.14,-.11,-.74,-.11,-.77,-.02,-.82,-.06,-1.35,-.05,-1.4,-.07,-1.52,-.18,-1.5,-.2];
const nGrayEll=[-1.52,.22,-1.43,.235,-1.32,.22,-1.25,.17,-1.28,.09,-1.38,.05,-1.48,.05,-1.56,.08,-1.6,.13,-1.57,.19,-1.52,.22];
const nBlackEll=[-1.22,.22,-1.1,.24,-.95,.24,-.82,.2,-.78,.15,-.86,.09,-1,.06,-1.17,.05,-1.28,.08,-1.33,.14,-1.22,.22];

const oGray=[.48,-.97,.21,-1.11,.03,-1.18,.48,-1.15,.45,-1.16,.46,-1.13,.42,-1.15,.49,-1.1,-.28,-1.23,-.62,-1.49,-.45,-1.36,-.38,-1.37,-.27,-1.63,-.27,-1.37,-.26,-1.31,-.21,-1.32,-.19,-1.25,-.15,-1.23,-.12,-1.27,-.1,-1.24,-.2,-1.4,-.15,-1.3,-.13,-1.33,-.1,-1.3,-.06,-1.28,-.02,-1.26,.03,-1.28,.08,-1.25,.12,-1.2,.17,-1.25,.2,-1.2,.25,-1.2,.3,-1.25,.33,-1.18,.28,-1.15,.22,-1.28,-.17,-1.45,-.14,-1.43,-.1,-1.4,-.12,-1.48,-.09,-1.46,-.07,-1.5,-.03,-1.53,0,-1.56,.05,-1.58,.1,-1.6,.15,-1.64,.1,-1.68,.08,-1.66,.05,-1.7,.14,-1.7,-.11,-1.35,-.07,-1.36,-.16,-1.38,.2,-1.58];
const oHalo=[-.16,-1.34,-.12,-1.38,-.08,-1.32,-.04,-1.3,0,-1.3,.05,-1.28,.1,-1.28,.15,-1.27,.2,-1.27,.25,-1.29,.3,-1.3,-.1,-1.44,-.07,-1.42,-.14,-1.36,-.12,-1.42,-.08,-1.5,-.04,-1.5,0,-1.53,.05,-1.55,.1,-1.58,.15,-1.57,.25,-1.58,.28,-1.56];
const oBlack=[.3,-1.37,.33,-1.35,.36,-1.33,.4,-1.35,.44,-1.33,.48,-1.36,.32,-1.4,.35,-1.39,.38,-1.38,.42,-1.39,.46,-1.38,.5,-1.37,.3,-1.43,.33,-1.43,.36,-1.42,.4,-1.42,.44,-1.41,.48,-1.42,.52,-1.4,.31,-1.46,.34,-1.46,.37,-1.45,.41,-1.45,.45,-1.45,.49,-1.45,.32,-1.49,.35,-1.49,.38,-1.48,.42,-1.48,.46,-1.48,.5,-1.49,.33,-1.52,.36,-1.52,.4,-1.51,.44,-1.52,.48,-1.53,.34,-1.55,.38,-1.55,.43,-1.55,.47,-1.56,.36,-1.58,.53,-1.35,.57,-1.38,.55,-1.43,.58,-1.47,.54,-1.5,.56,-1.55,.6,-1.52,.62,-1.38,.63,-1.44,.66,-1.4,.65,-1.49,.68,-1.53,.7,-1.46,.72,-1.42,.74,-1.5,.76,-1.46,.6,-1.33,.53,-1.3,.58,-1.57,.65,-1.55,1.38,-.94,.7,-1,.63,-1.08,.6,-1.09,.57,-1.11,.55,-1.12,.53,-1.13,.54,-1.18,.55,-1.2,.5,-1.25,.57,-1.26,.6,-1.3,.52,-1.29,1.36,-1.22,1.37,-1.25,1.25,-1.25,1.12,-1.3,1.02,-1.35,1.03,-1.38,.97,-1.38,.95,-1.42,1.1,-1.42,.85,-1.38,.82,-1.41,.88,-1.45,.92,-1.47,.85,-1.5,1,-1.51,.82,-1.55,.83,-1.6,.8,-1.58,.72,-1.62,.72,-1.65,.68,-1.66,.82,-1.68,.88,-1.72,.56,-1.8,.06,-1.79,.2,-1.6,.18,-1.62,.16,-1.68,.33,-1.62,.35,-1.6,.4,-1.61,.77,-1.57,.95,-1.5];
const oGrayEll=[.05,-1.33,.15,-1.31,.25,-1.35,.31,-1.42,.29,-1.5,.2,-1.55,.1,-1.55,0,-1.5,-.05,-1.44,-.04,-1.38,.05,-1.33];
const oBlackEll=[.38,-1.33,.5,-1.32,.65,-1.34,.76,-1.41,.78,-1.48,.7,-1.55,.55,-1.59,.4,-1.57,.28,-1.5,.24,-1.42,.38,-1.33];

const legendGray='(La/Sm)', legendSub='N', legendLt='<1', legendGe='\u2A7E1';
const FONT='"Liberation Serif","Times New Roman",serif', INK='#222', GRAY='#9a9a9a', FONT_SIZE=8;

// letter, plot box L R T B, x ticks, y ticks, x title, y title, series, title inset, core mark radius
const panels=[
 ['',43,224,4,152,tLaHf,yCeNb,'lg(La/Hf)','lg(Ce/Nb)',[...aGray,...aHalo],aBlack,aGrayEll,aBlackEll,5,2.5],
 ['b',266,450,4,152,tLaZr,yPrNb,'lg(La/Zr)','lg(Pr/Nb)',[...bGray,...bHalo],bBlack,bGrayEll,bBlackEll,3,2.4],
 ['c',492,673,4,152,tLaHf,yLaNb,'lg(La/Hf)','lg(La/Nb)',[...cGray,...cHalo],cBlack,cGrayEll,cBlackEll,1,2.6],
 ['d',43,224,175,321,tCeHf,yCeNb,'lg(Ce/Hf)','lg(Ce/Nb)',[...dGray,...dHalo],dBlack,dGrayEll,dBlackEll,5,2.5],
 ['e',267,448,175,321,tLaHf,ySmNb,'lg(La/Hf)','lg(Sm/Nb)',[...eGray,...eHalo],eBlack,eGrayEll,eBlackEll,3,2.4],
 ['f',492,673,175,321,tLaNb,yLaZr,'lg(La/Nb)','lg(La/Zr)',[...fGray,...fHalo],fBlack,fGrayEll,fBlackEll,1,2.7],
 ['g',43,224,345,491,tCeZr,yPrNb,'lg(Ce/Zr)','lg(Pr/Nb)',[...gGray,...gHalo],gBlack,gGrayEll,gBlackEll,5,2.4],
 ['h',267,448,345,491,tCeHf,yPrNb,'lg(Ce/Hf)','lg(Pr/Nb)',[...hGray,...hHalo],hBlack,hGrayEll,hBlackEll,3,2.4],
 ['i',492,676,344,492,tCeNbX,yCeZr,'lg(Ce/Nb)','lg(Ce/Zr)',[...iGray,...iHalo],iBlack,iGrayEll,iBlackEll,1,2.5],
 ['j',42,226,513,661,tLaZr,ySmNb,'lg(La/Zr)','lg(Sm/Nb)',[...jGray,...jHalo],jBlack,jGrayEll,jBlackEll,5,2.4],
 ['k',267,452,513,661,tPrHf,ySmNb,'lg(Pr/Hf)','lg(Sm/Nb)',[...kGray,...kHalo],kBlack,kGrayEll,kBlackEll,3,2.1],
 ['l',492,673,513,660,tLaHf,yLaZr,'lg(La/Hf)','lg(La/Zr)',[...lGray,...lHalo],lBlack,lGrayEll,lBlackEll,1,2],
 ['m',43,224,685,831,tLaHf,ySmHf,'lg(La/Hf)','lg(Sm/Hf)',[...mGray,...mHalo],mBlack,mGrayEll,mBlackEll,5,2.5],
 ['n',266,448,685,831,tLaZr,ySmHf,'lg(La/Zr)','lg(Sm/Hf)',[...nGray,...nHalo],nBlack,nGrayEll,nBlackEll,3,2.5],
 ['o',493,673,685,831,tLaHf,ySmZr,'lg(La/Hf)','lg(Sm/Zr)',[...oGray,...oHalo],oBlack,oGrayEll,oBlackEll,1,2.5]
];
const pairs=f=>{const r=[];for(let i=0;i<f.length;i+=2)r.push({x:f[i],y:f[i+1]});return r;};
const fmt=v=>String(+(+v).toFixed(2));
// points inside the group's outline sit in the dense core, which is drawn with a heavier mark
const inside=(pt,poly)=>{let c=false;for(let i=0,j=poly.length-1;i<poly.length;j=i++){
  const a=poly[i],b=poly[j];
  if((a.y>pt.y)!==(b.y>pt.y)&&pt.x<(b.x-a.x)*(pt.y-a.y)/(b.y-a.y)+a.x)c=!c;}return c;};

const framePlugin={id:'frame',afterDatasetsDraw(c,a,o){
  const {ctx,chartArea:A,scales:{x,y}}=c;
  ctx.save();ctx.strokeStyle='#555';ctx.lineWidth=1;
  ctx.beginPath();
  x.ticks.forEach(t=>{const p=x.getPixelForValue(t.value);ctx.moveTo(p,A.bottom);ctx.lineTo(p,A.bottom-2.5);ctx.moveTo(p,A.top);ctx.lineTo(p,A.top+2.5);});
  y.ticks.forEach(t=>{const p=y.getPixelForValue(t.value);ctx.moveTo(A.left,p);ctx.lineTo(A.left+2.5,p);ctx.moveTo(A.right,p);ctx.lineTo(A.right-2.5,p);});
  ctx.stroke();
  ctx.lineWidth=1.4;ctx.strokeRect(A.left,A.top,A.right-A.left,A.bottom-A.top);
  ctx.fillStyle=INK;ctx.textBaseline='middle';ctx.font=FONT_SIZE+'px '+FONT;
  if(o.letter){ctx.textAlign='center';ctx.fillText(o.letter,A.right-10,A.bottom-8);}
  if(o.legend){
    ctx.textAlign='left';
    [[GRAY,12,legendLt],['#000',21,legendGe]].forEach(([col,yy,tail])=>{
      const ly=A.top+yy,lx=A.left+16;
      ctx.fillStyle=col;ctx.beginPath();ctx.arc(A.left+12,ly,1.3,0,7);ctx.fill();
      ctx.fillStyle=INK;ctx.font=FONT_SIZE+'px '+FONT;ctx.fillText(legendGray,lx,ly);
      let w=ctx.measureText(legendGray).width;
      ctx.font='6px '+FONT;ctx.fillText(legendSub,lx+w,ly+2);
      w+=ctx.measureText(legendSub).width;
      ctx.font=FONT_SIZE+'px '+FONT;ctx.fillText(tail,lx+w+.5,ly);
    });
  }
  ctx.restore();
}};

panels.forEach(p=>{
  const [letter,L,R,T,B,xT,yT,xLab,yLab,gray,black,gEll,bEll,inset,coreR]=p;
  const cv=document.createElement('canvas');
  const mL=26,mR=14,mT=6,mB=22,W=R-L+mL+mR,H=B-T+mT+mB;
  cv.width=W;cv.height=H;cv.style.left=(L-mL)+'px';cv.style.top=(T-mT)+'px';
  cv.style.width=W+'px';cv.style.height=H+'px';
  document.body.appendChild(cv);
  const axis=(ticks,label,isX)=>({
    type:'linear',min:ticks[0],max:ticks[ticks.length-1],
    afterBuildTicks:s=>{s.ticks=ticks.map(v=>({value:v}));},
    afterFit:s=>{if(isX)s.height=mB;else s.width=mL;},
    grid:{display:false,drawTicks:false},border:{display:false},
    ticks:{autoSkip:false,maxRotation:0,padding:isX?1:3,color:INK,font:{family:FONT,size:FONT_SIZE},callback:fmt},
    title:{display:true,text:label,color:INK,font:{family:FONT,size:FONT_SIZE},padding:isX?{top:0,bottom:4}:{top:inset,bottom:0}}
  });
  const bPoly=pairs(bEll), blackPts=pairs(black);
  new Chart(cv,{type:'scatter',
    data:{datasets:[
      {data:bPoly,showLine:true,tension:.45,borderColor:'#3c3c3c',borderWidth:1.1,pointRadius:0,fill:false},
      {data:blackPts,backgroundColor:'#000',pointRadius:ctx=>{const q=blackPts[ctx.dataIndex];return q&&inside(q,bPoly)?coreR:1.25;},pointBorderWidth:0},
      {data:pairs(gEll),showLine:true,tension:.45,borderColor:'#111',borderWidth:1.4,pointRadius:0,backgroundColor:GRAY,fill:'shape'},
      {data:pairs(gray),backgroundColor:GRAY,pointRadius:1.25,pointBorderWidth:0}
    ]},
    options:{responsive:false,animation:false,devicePixelRatio:1,
      layout:{padding:{top:mT,right:mR,left:0,bottom:0}},
      plugins:{legend:{display:false},tooltip:{enabled:false},frame:{letter,legend:letter===''}},
      scales:{x:axis(xT,xLab,true),y:axis(yT,yLab,false)}},
    plugins:[framePlugin]});
});
</script>
</body></html>
